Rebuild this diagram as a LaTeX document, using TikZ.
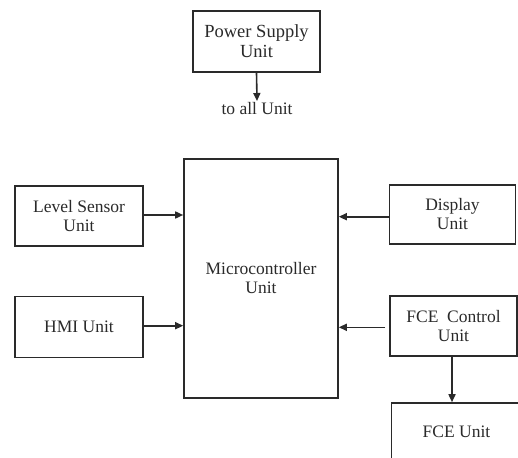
\documentclass[tikz,border=0pt]{standalone}
\usepackage{fontspec}
\setmainfont{Liberation Serif}
\usetikzlibrary{arrows.meta}
\definecolor{ink}{HTML}{2A2A2A}
\begin{document}
\begin{tikzpicture}[x=1pt,y=-1pt,
  box/.style={draw=ink,line width=1.6pt,rectangle,align=center,text=ink,
    font=\fontsize{17.5}{19}\selectfont,inner sep=0pt},
  conn/.style={draw=ink,line width=1.6pt,-{Triangle[length=8pt,width=7pt]}}]
\path[use as bounding box,clip] (0,0) rectangle (518,457);
\fill[white] (0,0) rectangle (518,457);
\node[box,minimum width=127pt,minimum height=61pt,font=\fontsize{18.5}{20}\selectfont] (power) at (256.5,41.5) {Power Supply\\Unit};
\node[text=ink,font=\fontsize{17.5}{19}\selectfont,inner sep=1pt,anchor=north] (tolabel) at (257,101) {to all Unit};
\node[box,minimum width=154pt,minimum height=239pt] (mc) at (261,278.5) {Microcontroller\\Unit};
\node[box,minimum width=128pt,minimum height=60pt] (level) at (79,216) {Level Sensor\\Unit};
\node[box,minimum width=128pt,minimum height=61pt] (hmi) at (79,327) {HMI Unit};
\node[box,minimum width=126pt,minimum height=59pt] (disp) at (452.5,214.5) {Display\\Unit};
\node[box,minimum width=127pt,minimum height=60pt] (fcec) at (453.5,325.7) {FCE~~Control\\Unit};
\node[box,minimum width=130pt,minimum height=58pt] (fceu) at (456.5,432) {FCE Unit};
\draw[conn] (power.south) -- (tolabel.north);
\draw[conn] (level.east |- 0,215) -- (mc.west |- 0,215);
\draw[conn] (hmi.east |- 0,325.7) -- (mc.west |- 0,325.7);
\draw[conn] (disp.west |- 0,216.7) -- (mc.east |- 0,216.7);
\draw[conn] ([xshift=-4pt]fcec.west |- 0,327.3) -- (mc.east |- 0,327.3);
\draw[conn] (fcec.south -| 452,0) -- (fceu.north -| 452,0);
\end{tikzpicture}
\end{document}
